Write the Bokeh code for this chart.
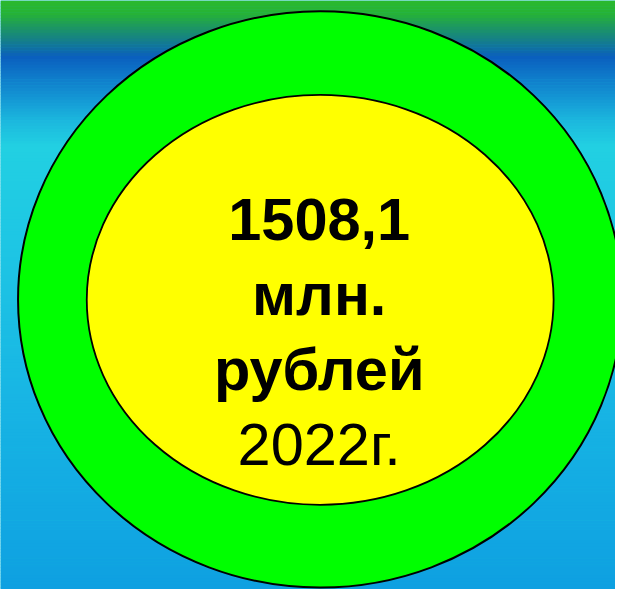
from bokeh.plotting import figure
from bokeh.models import Range1d
from bokeh.embed import file_html
from bokeh.resources import INLINE
from bokeh.core.properties import value

# ---- data ----
lines = ["1508,1", "млн.", "рублей", "2022г."]
line_bold = [True, True, True, False]

# ---- background gradient stops (y in px, rgb) ----
grad_y = [0, 14, 28, 42, 58, 75, 100, 125, 150, 250, 400, 605]
grad_c = [(42, 185, 45), (38, 178, 55), (28, 150, 100), (20, 125, 140),
          (10, 95, 190), (14, 118, 200), (20, 150, 212), (28, 185, 222),
          (34, 208, 226), (30, 198, 228), (24, 182, 228), (14, 160, 225)]

REF_W, REF_H = 631, 605
W, H = 615, 589
scale = W / REF_W
p = figure(width=W, height=H, output_backend="svg", toolbar_location=None,
           x_range=Range1d(0, REF_W), y_range=Range1d(REF_H, 0),
           min_border=0)
p.axis.visible = False
p.grid.visible = False
p.outline_line_color = None
p.background_fill_color = "#22cce0"
p.border_fill_color = None


def lerp_color(y):
    for i in range(len(grad_y) - 1):
        if grad_y[i] <= y <= grad_y[i + 1]:
            t = (y - grad_y[i]) / (grad_y[i + 1] - grad_y[i])
            a, b = grad_c[i], grad_c[i + 1]
            r = [round(a[k] + (b[k] - a[k]) * t) for k in range(3)]
            return "#%02x%02x%02x" % tuple(r)
    return "#%02x%02x%02x" % grad_c[-1]


step = 3
tops, bots, cols = [], [], []
yy = 0
while yy < REF_H:
    tops.append(yy)
    bots.append(yy + step + 0.5)
    cols.append(lerp_color(yy + step / 2))
    yy += step
p.quad(left=0, right=REF_W + 10, top=tops, bottom=bots, fill_color=cols,
       line_color=None)

# ---- rings ----
cx, cy = 328, 307
p.ellipse(x=cx, y=cy, width=620, height=592, fill_color="#00ff00",
          line_color="black", line_width=2)
p.ellipse(x=cx, y=307.5, width=479, height=421, fill_color="#ffff00",
          line_color="black", line_width=1.8)

# ---- text ----
first_base, spacing = 224.5, 77.3
fs = "%.1fpx" % (61 * scale)
for i, (t, b) in enumerate(zip(lines, line_bold)):
    p.text(x=[327], y=[first_base + i * spacing], text=[t],
           text_font=value("Liberation Sans"),
           text_font_style="bold" if b else "normal",
           text_font_size=fs, text_color="black",
           text_align="center", text_baseline="alphabetic")

open("out.html", "w").write(file_html(p, INLINE))
